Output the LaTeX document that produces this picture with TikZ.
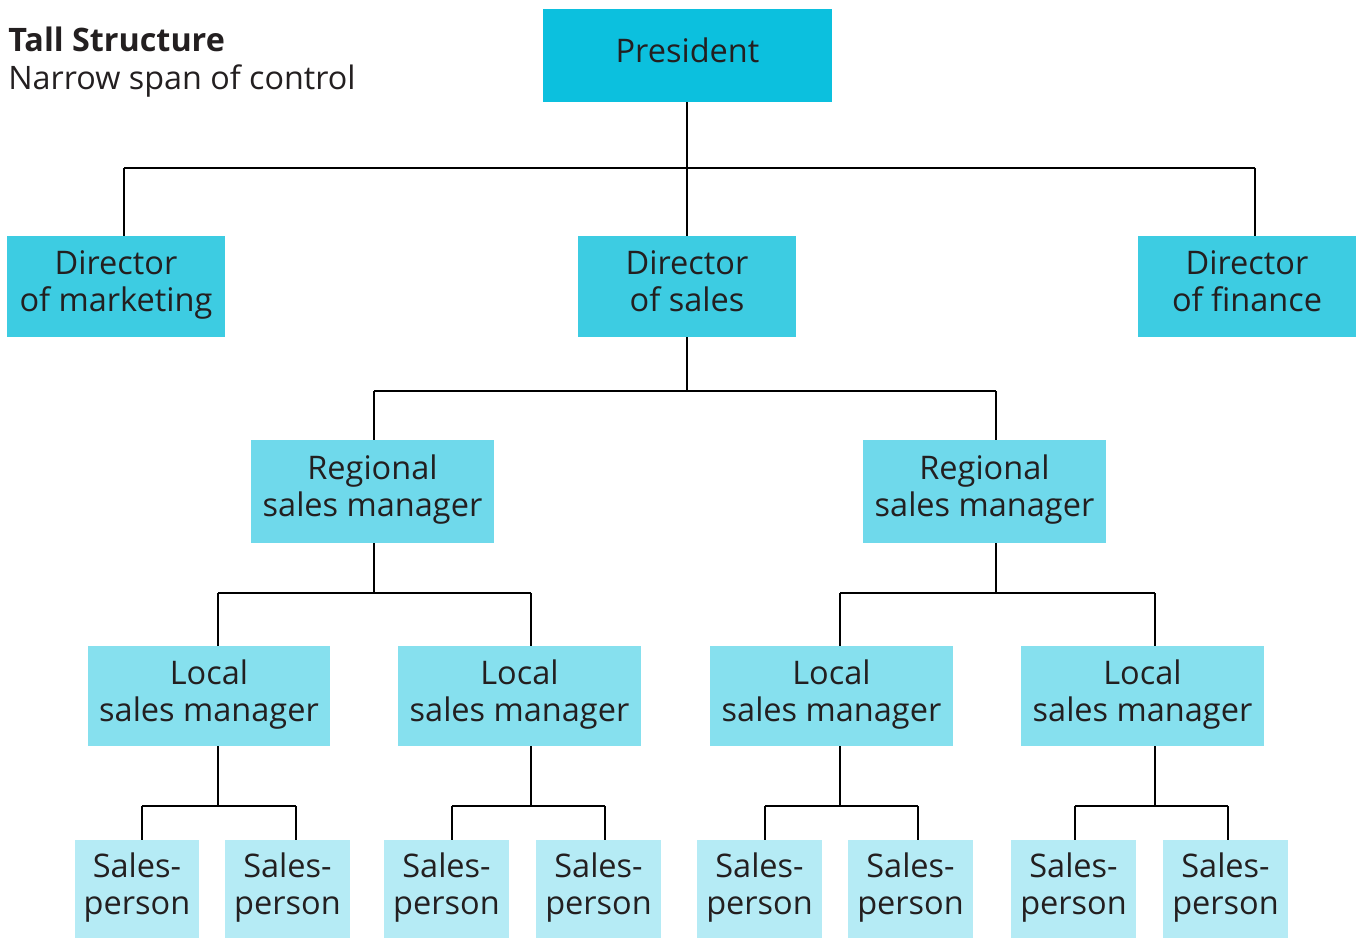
\documentclass[tikz,border=0pt]{standalone}
\usepackage{fontspec}
\setmainfont{Open Sans}
\usepackage{xcolor}
\definecolor{inkgray}{HTML}{231F20}
\definecolor{presfill}{HTML}{0CC0DE}
\definecolor{dirfill}{HTML}{3DCCE2}
\definecolor{regfill}{HTML}{6FD9EB}
\definecolor{locfill}{HTML}{86E0EE}
\definecolor{salfill}{HTML}{B5EBF5}
\tikzset{
  orgbox/.style={inner sep=0pt, align=center, text=inkgray,
    font=\fontsize{18.5}{21}\selectfont,
    execute at begin node=\strut, execute at end node=\strut},
  presbox/.style={orgbox, fill=presfill, minimum width=5.78cm, minimum height=1.86cm},
  dirbox/.style={orgbox, fill=dirfill, minimum width=4.36cm, minimum height=2.02cm},
  regbox/.style={orgbox, fill=regfill, minimum width=4.86cm, minimum height=2.06cm},
  locbox/.style={orgbox, fill=locfill, minimum width=4.86cm, minimum height=2cm},
  salbox/.style={orgbox, fill=salfill, minimum width=2.5cm, minimum height=1.96cm},
  link/.style={draw=black, line width=0.8pt}
}
\begin{document}
\begin{tikzpicture}[x=0.02cm,y=-0.02cm]
\useasboundingbox (0,0) rectangle (1356,939);
% title
\node[anchor=base west, inner sep=0pt, text=inkgray, font=\fontsize{18.4}{21}\selectfont\bfseries] (title) at (8,52) {Tall Structure};
\node[anchor=base west, inner sep=0pt, text=inkgray, font=\fontsize{18.4}{21}\selectfont] (subtitle) at (8,90) {Narrow span of control};
% boxes
\node[presbox] (pres) at (687.5,55.5) {President};
\node[dirbox] (dmkt) at (116,286.5) {Director\\of marketing};
\node[dirbox] (dsal) at (687,286.5) {Director\\of sales};
\node[dirbox] (dfin) at (1247,286.5) {Director\\of finance};
\node[regbox] (reg1) at (372.5,491.5) {Regional\\sales manager};
\node[regbox] (reg2) at (984.5,491.5) {Regional\\sales manager};
\foreach \i/\x in {1/209,2/519.5,3/831.5,4/1142.5}
  \node[locbox] (loc\i) at (\x,696) {Local\\sales manager};
\foreach \i/\x in {1/137,2/287.5,3/446.5,4/598.5,5/759.5,6/910.5,7/1073.5,8/1225.5}
  \node[salbox] (sal\i) at (\x,889) {Sales-\\person};
% connectors
\coordinate (bus0) at (687,168);
\coordinate (bus1) at (687,391);
\draw[link] (pres.south -| bus0) -- (bus0);
\draw[link] (124,168) -- (1255,168);
\foreach \n/\x in {dmkt/124,dsal/687,dfin/1255}
  \draw[link] (\x,168) -- (\n.north -| \x,0);
\draw[link] (dsal.south) -- (bus1);
\draw[link] (374,391) -- (996,391);
\foreach \n/\x in {reg1/374,reg2/996}
  \draw[link] (\x,391) -- (\n.north -| \x,0);
% regional to local
\foreach \n/\x/\b/\c in {reg1/374/218/531, reg2/996/840/1155}{
  \draw[link] (\n.south -| \x,0) -- (\x,593);
  \draw[link] (\b,593) -- (\c,593);
}
\foreach \n/\x in {loc1/218,loc2/531,loc3/840,loc4/1155}
  \draw[link] (\x,593) -- (\n.north -| \x,0);
% local to salesperson
\foreach \n/\x/\a/\b in {loc1/218/142/296, loc2/531/452/605, loc3/840/765/918, loc4/1155/1075/1228}{
  \draw[link] (\n.south -| \x,0) -- (\x,806);
  \draw[link] (\a,806) -- (\b,806);
}
\foreach \n/\x in {sal1/142,sal2/296,sal3/452,sal4/605,sal5/765,sal6/918,sal7/1075,sal8/1228}
  \draw[link] (\x,806) -- (\n.north -| \x,0);
\end{tikzpicture}
\end{document}
